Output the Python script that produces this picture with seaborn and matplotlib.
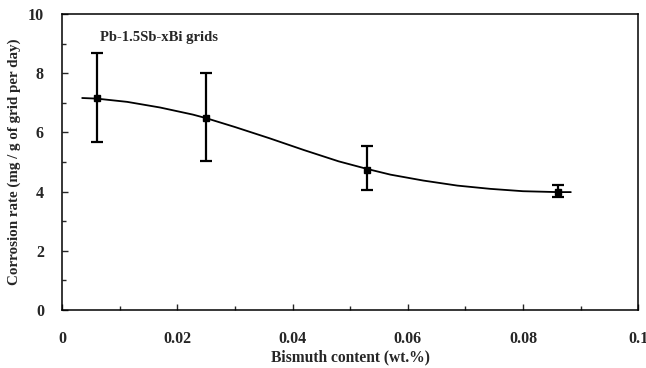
import matplotlib
matplotlib.use("Agg")
import matplotlib.pyplot as plt
import seaborn as sns
import pandas as pd
from matplotlib.ticker import MultipleLocator

# measured points
bi_content = [0.006, 0.025, 0.053, 0.086]
corr_rate = [7.15, 6.47, 4.74, 4.0]
err_low = [5.67, 5.04, 4.04, 3.82]
err_high = [8.67, 8.01, 5.54, 4.22]

# fitted curve
curve_x = [0.0035, 0.006, 0.0113, 0.017, 0.0227, 0.025, 0.030, 0.036, 0.042,
           0.048, 0.053, 0.057, 0.0627, 0.0686, 0.0743, 0.080, 0.086, 0.0883]
curve_y = [7.16, 7.14, 7.03, 6.84, 6.60, 6.48, 6.18, 5.80, 5.40,
           5.02, 4.76, 4.57, 4.37, 4.20, 4.09, 4.01, 3.98, 3.98]

xticks = [0, 0.02, 0.04, 0.06, 0.08, 0.1]
xtick_labels = ["0", "0.02", "0.04", "0.06", "0.08", "0.1"]
yticks = [0, 2, 4, 6, 8, 10]

sns.set_style("ticks")
plt.rcParams['font.family'] = ['Liberation Serif', 'DejaVu Serif']
plt.rcParams['font.weight'] = 'bold'

fig = plt.figure(figsize=(6.46, 3.68), dpi=100)
ax = fig.add_axes([0.096, 0.158, 0.892, 0.804])

df_curve = pd.DataFrame({"x": curve_x, "y": curve_y})
sns.lineplot(data=df_curve, x="x", y="y", ax=ax, color="black", linewidth=1.3, sort=False)

lower = [c - l for c, l in zip(corr_rate, err_low)]
upper = [h - c for c, h in zip(corr_rate, err_high)]
ax.errorbar(bi_content, corr_rate, yerr=[lower, upper], fmt="s", color="black",
            markersize=4.5, ecolor="black", elinewidth=1.6, capsize=4, capthick=1.6)

ax.set_xlim(0, 0.1)
ax.set_ylim(0, 10)
ax.set_xticks(xticks)
ax.set_xticklabels(xtick_labels)
ax.set_yticks(yticks)
ax.xaxis.set_minor_locator(MultipleLocator(0.01))
ax.yaxis.set_minor_locator(MultipleLocator(1))
ax.tick_params(axis="both", which="both", direction="in", labelsize=11.5, width=1)
ax.tick_params(axis="both", which="major", length=4)
ax.tick_params(axis="both", which="minor", length=3)
ax.tick_params(axis="x", which="major", pad=15)
ax.tick_params(axis="y", which="major", pad=13)
for lab in ax.get_xticklabels() + ax.get_yticklabels():
    lab.set_fontweight("bold")

for s in ax.spines.values():
    s.set_linewidth(1.1)
    s.set_color("black")

ax.set_xlabel("Bismuth content (wt.%)", fontsize=11.2, fontweight="bold")
ax.set_ylabel("Corrosion rate (mg / g of grid per day)", fontsize=10.8, fontweight="bold")
ax.xaxis.set_label_coords(0.5, -0.135)
ax.yaxis.set_label_coords(-0.072, 0.5)
ax.text(0.0066, 9.22, "Pb-1.5Sb-xBi grids", fontsize=10.5, fontweight="bold", va="center")

fig.savefig("out.png", dpi=100)
